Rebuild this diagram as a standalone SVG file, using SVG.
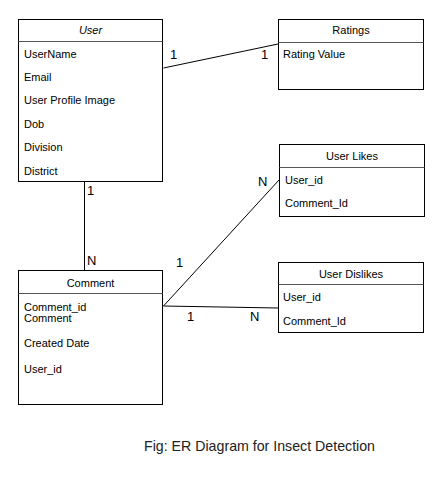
<svg xmlns="http://www.w3.org/2000/svg" width="444" height="478" viewBox="0 0 444 478">
<style>
.box{fill:#fff;stroke:#000;stroke-width:1}
.div{stroke:#555;stroke-width:1}
.t{font-family:"Liberation Sans",Arial,sans-serif;font-size:11px;fill:#000}
.h{font-family:"Liberation Sans",Arial,sans-serif;font-size:11px;fill:#000;text-anchor:middle}
.lbl{font-family:"Liberation Sans",Arial,sans-serif;font-size:13px;fill:#000}
.con{stroke:#000;stroke-width:1;fill:none}
</style>
<rect width="444" height="478" fill="#fff"/>
<g id="connectors">
<line class="con" x1="163.5" y1="68" x2="278" y2="44"/>
<line class="con" x1="84.5" y1="182" x2="84.5" y2="270"/>
<line class="con" x1="163.5" y1="306" x2="279" y2="180"/>
<line class="con" x1="163.5" y1="306" x2="278" y2="308"/>
<text class="lbl" x="170" y="59">1</text>
<text class="lbl" x="261" y="59">1</text>
<text class="lbl" x="87" y="195">1</text>
<text class="lbl" x="87" y="265">N</text>
<text class="lbl" x="258" y="186">N</text>
<text class="lbl" x="176" y="267">1</text>
<text class="lbl" x="187" y="321">1</text>
<text class="lbl" x="250" y="321">N</text>
</g>
<g id="user">
<rect class="box" x="18.5" y="19.5" width="144" height="162"/>
<line class="div" x1="18.5" y1="41.5" x2="162.5" y2="41.5"/>
<text class="h" x="90.5" y="34" font-style="italic">User</text>
<text class="t" x="24" y="58">UserName</text>
<text class="t" x="24" y="81">Email</text>
<text class="t" x="24" y="104">User Profile Image</text>
<text class="t" x="24" y="128">Dob</text>
<text class="t" x="24" y="151">Division</text>
<text class="t" x="24" y="175">District</text>
</g>
<g id="ratings">
<rect class="box" x="278.5" y="19.5" width="145" height="70"/>
<line class="div" x1="278.5" y1="42.5" x2="423.5" y2="42.5"/>
<text class="h" x="351" y="34">Ratings</text>
<text class="t" x="283" y="58">Rating Value</text>
</g>
<g id="userlikes">
<rect class="box" x="279.5" y="144.5" width="145" height="72"/>
<line class="div" x1="279.5" y1="167.5" x2="424.5" y2="167.5"/>
<text class="h" x="352" y="160">User Likes</text>
<text class="t" x="285" y="184">User_id</text>
<text class="t" x="285" y="207">Comment_Id</text>
</g>
<g id="userdislikes">
<rect class="box" x="278.5" y="262.5" width="145" height="70"/>
<line class="div" x1="278.5" y1="284.5" x2="423.5" y2="284.5"/>
<text class="h" x="351" y="278">User Dislikes</text>
<text class="t" x="283" y="301">User_id</text>
<text class="t" x="283" y="325">Comment_Id</text>
</g>
<g id="comment">
<rect class="box" x="18.5" y="270.5" width="144" height="134"/>
<line class="div" x1="18.5" y1="293.5" x2="162.5" y2="293.5"/>
<text class="h" x="90.5" y="287">Comment</text>
<text class="t" x="24" y="311">Comment_id</text>
<text class="t" x="24" y="322">Comment</text>
<text class="t" x="24" y="347">Created Date</text>
<text class="t" x="24" y="373">User_id</text>
</g>
<text x="259.5" y="451" text-anchor="middle" font-family="'Liberation Sans',Arial,sans-serif" font-size="14.2" fill="#222">Fig: ER Diagram for Insect Detection</text>
</svg>
